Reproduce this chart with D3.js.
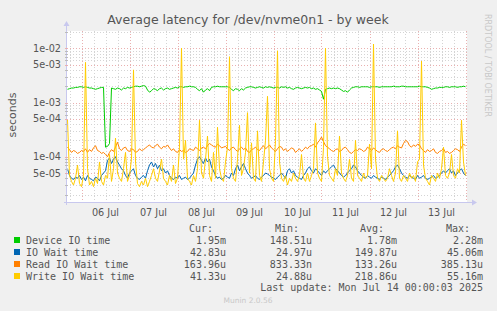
<!DOCTYPE html>
<html>
<head>
<meta charset="utf-8">
<script src="https://cdn.jsdelivr.net/npm/d3@7"></script>
<style>
  html, body { margin: 0; padding: 0; background: #f0f0f0; }
  svg { display: block; }
  text { font-family: "DejaVu Sans", sans-serif; }
  .mono { font-family: "DejaVu Sans Mono", monospace; }
</style>
</head>
<body>
<div id="chart"></div>
<script>
// hourly samples starting Jul 5 17:00 UTC, values in microseconds
const sampleStart = Date.UTC(2025, 6, 5, 17, 0);
const sampleStep = 3600 * 1000;
const unit = 1e-6;

const deviceIO = [
  1750, 1800, 1850, 1850, 1900, 1900, 1950, 1950, 1900, 1950,
  1900, 1850, 1850, 1800, 1750, 1800, 1850, 1900, 1900, 150,
  155, 175, 1850, 1800, 1750, 1850, 1800, 1700, 1850, 1800,
  1900, 1850, 1900, 1950, 2000, 2000, 1950, 2000, 2050, 2000,
  1700, 1550, 1650, 1800, 1750, 1650, 1800, 1850, 1700, 1800,
  1850, 1750, 1800, 1850, 1900, 1850, 1950, 1950, 1900, 1950,
  1950, 2000, 1950, 1950, 1900, 1750, 1650, 1800, 1550, 1700,
  1800, 1650, 1900, 1950, 1950, 2000, 1950, 1950, 1950, 1950,
  1950, 1900, 1750, 1650, 1800, 1750, 1650, 1800, 1700, 1850,
  1900, 1950, 1950, 1900, 1850, 1900, 1950, 1900, 1850, 1950,
  1900, 1950, 1900, 1850, 1900, 1900, 1850, 1950, 1900, 1950,
  1850, 1900, 1800, 1750, 1850, 1900, 1850, 1800, 1850, 1900,
  1850, 1900, 1800, 1850, 1750, 1800, 1700, 1600, 1150, 1750,
  1800, 1850, 1800, 1850, 1800, 1850, 1800, 1700, 1600, 1650,
  1550, 1700, 1850, 1900, 1950, 1950, 1900, 1950, 1950, 1950,
  1950, 1900, 1950, 1950, 1950, 1950, 1900, 1950, 1950, 1950,
  1950, 1950, 1950, 2000, 1950, 1950, 1950, 2000, 2000, 1950,
  1950, 1950, 1950, 1950, 1950, 1950, 2000, 1950, 1950, 1950,
  1900, 1850, 1750, 1800, 1850, 1850, 1900, 1900, 1900, 1950,
  1950, 1900, 1950, 1950, 1950, 1900, 1950, 1950, 2000, 1950
];
const ioWait = [
  60, 45, 40, 38, 42, 40, 45, 38, 42, 36,
  45, 40, 38, 36, 42, 40, 36, 45, 50, 55,
  85, 95, 75, 90, 100, 80, 70, 60, 55, 45,
  40, 50, 55, 60, 45, 40, 38, 42, 45, 40,
  55, 70, 80, 65, 75, 60, 70, 55, 60, 50,
  55, 45, 40, 38, 42, 40, 45, 38, 40, 42,
  38, 40, 45, 50, 70, 90, 100, 85, 75, 95,
  80, 90, 65, 55, 45, 40, 42, 38, 40, 45,
  42, 40, 50, 45, 60, 70, 55, 65, 75, 60,
  50, 45, 40, 42, 45, 40, 38, 42, 45, 50,
  48, 45, 42, 40, 38, 42, 45, 50, 45, 40,
  55, 60, 50, 55, 45, 42, 40, 38, 45, 50,
  60, 65, 55, 50, 60, 55, 50, 45, 55, 50,
  55, 60, 65, 70, 60, 55, 50, 45, 42, 45,
  50, 55, 60, 70, 65, 55, 50, 45, 42, 40,
  45, 42, 40, 45, 42, 40, 38, 42, 40, 38,
  42, 45, 50, 55, 65, 70, 60, 50, 45, 42,
  40, 45, 42, 40, 38, 45, 40, 42, 45, 40,
  38, 40, 42, 45, 40, 42, 45, 50, 55, 50,
  55, 60, 50, 55, 45, 50, 55, 60, 50, 45
];
const readWait = [
  150, 135, 120, 130, 125, 115, 120, 130, 125, 140,
  120, 135, 125, 145, 160, 130, 125, 115, 120, 110,
  100, 120, 135, 125, 150, 185, 140, 130, 145, 150,
  130, 125, 140, 135, 120, 125, 140, 130, 135, 145,
  155, 165, 150, 145, 160, 170, 150, 140, 155, 150,
  165, 145, 130, 140, 125, 120, 135, 125, 130, 120,
  125, 140, 135, 130, 150, 140, 130, 145, 150, 140,
  160, 175, 165, 155, 150, 170, 160, 145, 150, 155,
  140, 130, 145, 150, 135, 125, 140, 150, 135, 145,
  125, 120, 135, 140, 150, 135, 130, 145, 160, 140,
  150, 165, 145, 135, 125, 140, 155, 150, 130, 140,
  125, 135, 145, 140, 120, 130, 140, 125, 135, 150,
  140, 155, 160, 170, 150, 180, 200, 230, 190, 160,
  150, 140, 130, 125, 135, 140, 125, 130, 145, 150,
  135, 120, 115, 125, 135, 130, 140, 135, 125, 130,
  150, 140, 130, 145, 135, 125, 120, 135, 140, 130,
  125, 135, 145, 150, 140, 160, 150, 145, 175, 200,
  190, 160, 150, 165, 155, 170, 165, 140, 130, 120,
  135, 125, 130, 140, 120, 115, 125, 130, 140, 120,
  125, 115, 120, 130, 140, 135, 125, 150, 170, 160
];
const writeWait = [
  480, 45, 35, 30, 40, 70, 32, 28, 45, 5500,
  60, 30, 35, 28, 40, 32, 80, 35, 30, 45,
  40, 110, 35, 60, 220, 50, 40, 35, 60, 120,
  35, 45, 90, 4000, 80, 32, 28, 35, 30, 40,
  28, 35, 45, 60, 40, 35, 55, 90, 40, 35,
  30, 45, 35, 70, 32, 40, 150, 10000, 90, 200,
  40, 35, 30, 45, 35, 60, 470, 50, 40, 90,
  240, 45, 35, 120, 40, 350, 60, 40, 35, 80,
  150, 7000, 60, 40, 35, 90, 380, 45, 60, 120,
  650, 50, 180, 40, 35, 300, 45, 35, 80, 200,
  1300, 60, 40, 35, 200, 9000, 80, 40, 35, 45,
  30, 40, 35, 50, 40, 35, 45, 110, 40, 35,
  50, 35, 45, 60, 420, 50, 40, 35, 150, 10000,
  100, 45, 40, 35, 60, 45, 240, 50, 40, 35,
  45, 90, 40, 35, 200, 45, 40, 35, 50, 40,
  45, 170, 60, 12000, 90, 40, 35, 45, 40, 35,
  40, 60, 45, 35, 50, 300, 40, 35, 45, 40,
  35, 50, 40, 45, 35, 80, 90, 5800, 70, 40,
  35, 30, 45, 40, 35, 50, 40, 60, 150, 45,
  40, 50, 110, 45, 40, 60, 50, 470, 80, 45
];

const seriesNames = ['Device IO time', 'IO Wait time', 'Read IO Wait time', 'Write IO Wait time'];
const seriesColors = ['#00cc00', '#0066b3', '#ff8000', '#ffcc00'];
const legendCur = ['1.95m', '42.83u', '163.96u', '41.33u'];
const legendMin = ['148.51u', '24.97u', '833.33n', '24.88u'];
const legendAvg = ['1.78m', '149.87u', '133.26u', '218.86u'];
const legendMax = ['2.28m', '45.06m', '385.13u', '55.16m'];
const yTickValues = [1e-2, 5e-3, 1e-3, 5e-4, 1e-4, 5e-5];
const yTickLabels = ['1e-02', '5e-03', '1e-03', '5e-04', '1e-04', '5e-05'];

const width = 497, height = 311;
const plot = {left: 67, right: 467, top: 31, bottom: 202};

const svg = d3.select('#chart').append('svg')
  .attr('width', width)
  .attr('height', height);

svg.append('rect').attr('width', width).attr('height', height).attr('fill', '#f0f0f0');

const x = d3.scaleUtc()
  .domain([Date.UTC(2025, 6, 5, 16, 45), Date.UTC(2025, 6, 14, 0, 45)])
  .range([plot.left, plot.right]);

const y = d3.scaleLog()
  .domain([1.46e-5, 2.085e-2])
  .range([plot.bottom, plot.top]);

svg.append('rect')
  .attr('x', plot.left).attr('y', plot.top)
  .attr('width', plot.right - plot.left).attr('height', plot.bottom - plot.top)
  .attr('fill', '#fff');

svg.append('clipPath').attr('id', 'plotclip')
  .append('rect')
  .attr('x', plot.left).attr('y', plot.top)
  .attr('width', plot.right - plot.left).attr('height', plot.bottom - plot.top);

// grid
const grid = svg.append('g');

const minorY = [];
for (let e = -5; e <= -2; e++) {
  for (let k = 1; k <= 9; k++) {
    const v = k * Math.pow(10, e);
    if (v >= y.domain()[0] && v <= y.domain()[1]) minorY.push({v, major: k === 1 || k === 5});
  }
}
grid.selectAll('.hgrid').data(minorY).join('line')
  .attr('x1', plot.left).attr('x2', plot.right)
  .attr('y1', d => Math.round(y(d.v)) + 0.5).attr('y2', d => Math.round(y(d.v)) + 0.5)
  .attr('stroke', d => d.major ? '#eab0b0' : '#d4d4d4')
  .attr('stroke-dasharray', '1,2');

const hours = d3.utcHour.every(6).range(x.domain()[0], x.domain()[1]);
grid.selectAll('.vgrid').data(hours).join('line')
  .attr('y1', plot.top).attr('y2', plot.bottom)
  .attr('x1', d => Math.round(x(d)) + 0.5).attr('x2', d => Math.round(x(d)) + 0.5)
  .attr('stroke', d => d.getUTCHours() === 0 ? '#eab0b0' : '#d4d4d4')
  .attr('stroke-dasharray', '1,2');

// series
const allSeries = [deviceIO, ioWait, readWait, writeWait].map((vals, i) => ({
  name: seriesNames[i],
  color: seriesColors[i],
  values: vals.map((v, j) => ({t: new Date(sampleStart + j * sampleStep), v: v * unit}))
}));

const line = d3.line()
  .x(d => x(d.t))
  .y(d => y(d.v));

svg.append('g').attr('clip-path', 'url(#plotclip)')
  .selectAll('path').data(allSeries).join('path')
  .attr('d', d => line(d.values))
  .attr('fill', 'none')
  .attr('stroke', d => d.color)
  .attr('stroke-width', 1)
  .attr('stroke-linejoin', 'round');

// axes
const axisColor = '#c8c8ee';
svg.append('line')
  .attr('x1', plot.left - 0.5).attr('x2', plot.left - 0.5)
  .attr('y1', plot.bottom + 3).attr('y2', plot.top - 6)
  .attr('stroke', axisColor);
svg.append('path')
  .attr('d', `M${plot.left - 3.5},${plot.top - 5} L${plot.left - 0.5},${plot.top - 10} L${plot.left + 2.5},${plot.top - 5} Z`)
  .attr('fill', axisColor);
svg.append('line')
  .attr('x1', plot.left - 3).attr('x2', plot.right + 6)
  .attr('y1', plot.bottom + 0.5).attr('y2', plot.bottom + 0.5)
  .attr('stroke', axisColor);
svg.append('path')
  .attr('d', `M${plot.right + 5},${plot.bottom - 2.5} L${plot.right + 10},${plot.bottom + 0.5} L${plot.right + 5},${plot.bottom + 3.5} Z`)
  .attr('fill', axisColor);

// tick marks on axes
svg.selectAll('.ytick').data(minorY).join('line')
  .attr('x1', plot.left - 2).attr('x2', plot.left + 1)
  .attr('y1', d => Math.round(y(d.v)) + 0.5).attr('y2', d => Math.round(y(d.v)) + 0.5)
  .attr('stroke', d => d.major ? '#eab0b0' : '#bbb');

svg.selectAll('.ylab').data(yTickValues).join('text')
  .attr('x', plot.left - 6)
  .attr('y', d => y(d) + 3.5)
  .attr('text-anchor', 'end')
  .attr('font-size', 9.7)
  .attr('fill', '#555')
  .text((d, i) => yTickLabels[i]);

const noons = d3.utcDay.range(Date.UTC(2025, 6, 6), Date.UTC(2025, 6, 14))
  .map(d => new Date(+d + 12 * 3600 * 1000));
svg.selectAll('.xlab').data(noons).join('text')
  .attr('x', d => x(d))
  .attr('y', plot.bottom + 14)
  .attr('text-anchor', 'middle')
  .attr('font-size', 9.7)
  .attr('fill', '#555')
  .text(d => d3.utcFormat('%d %b')(d));

// title and labels
svg.append('text')
  .attr('x', 248).attr('y', 24)
  .attr('text-anchor', 'middle')
  .attr('font-size', 12.5)
  .attr('fill', '#555')
  .text('Average latency for /dev/nvme0n1 - by week');

svg.append('text')
  .attr('transform', 'translate(16,115) rotate(-90)')
  .attr('text-anchor', 'middle')
  .attr('font-size', 11)
  .attr('fill', '#555')
  .text('seconds');

svg.append('text')
  .attr('transform', 'translate(485,14) rotate(90)')
  .attr('font-size', 8)
  .attr('fill', '#c8c8c8')
  .text('RRDTOOL / TOBI OETIKER');

// legend
const legend = svg.append('g').attr('class', 'mono').attr('font-size', 10).attr('fill', '#555');
const colX = [226, 312, 397, 483];
const headX = [213, 299, 384, 470];
['Cur:', 'Min:', 'Avg:', 'Max:'].forEach((h, i) => {
  legend.append('text').attr('class', 'mono')
    .attr('x', headX[i]).attr('y', 231.5).attr('text-anchor', 'end').text(h);
});
const rowY = [240, 252, 264, 276];
allSeries.forEach((s, i) => {
  legend.append('rect')
    .attr('x', 14).attr('y', rowY[i] - 3).attr('width', 6).attr('height', 6)
    .attr('fill', s.color);
  legend.append('text').attr('class', 'mono')
    .attr('x', 26).attr('y', rowY[i] + 3.5).text(s.name);
  [legendCur, legendMin, legendAvg, legendMax].forEach((col, k) => {
    legend.append('text').attr('class', 'mono')
      .attr('x', colX[k]).attr('y', rowY[i] + 3.5).attr('text-anchor', 'end').text(col[i]);
  });
});
legend.append('text').attr('class', 'mono')
  .attr('x', 483).attr('y', 291).attr('text-anchor', 'end')
  .text('Last update: Mon Jul 14 00:00:03 2025');

svg.append('text')
  .attr('x', 248).attr('y', 303)
  .attr('text-anchor', 'middle')
  .attr('font-size', 7.5)
  .attr('fill', '#c8c8c8')
  .text('Munin 2.0.56');
</script>
</body>
</html>
